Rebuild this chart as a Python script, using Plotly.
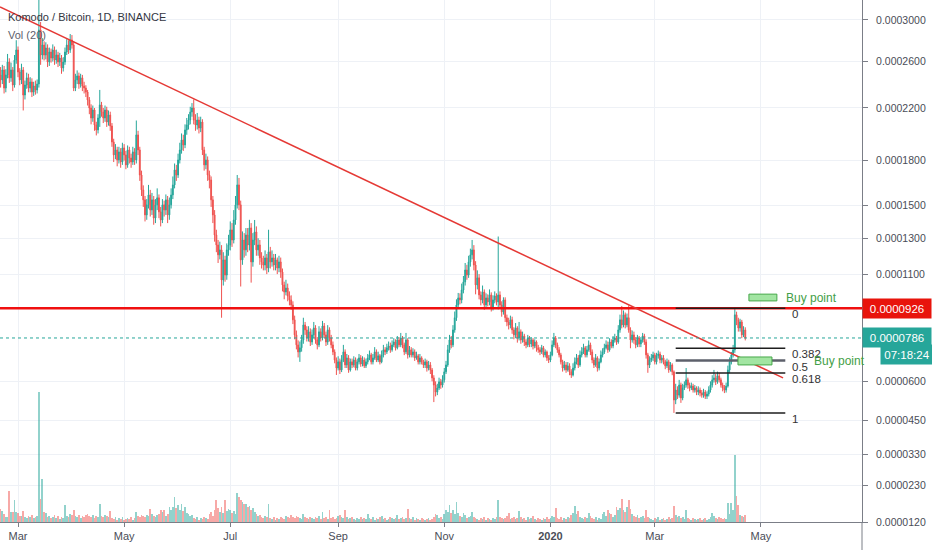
import numpy as np
import pandas as pd
import plotly.graph_objects as go

# KMD/BTC daily candles, prices in satoshi, volume in thousand KMD
start_day = "2019-02-19"
first_open = 24800

close_sat = [
    24360, 25240, 23660, 24800, 25960, 24540, 25240, 23920, 26140, 27070,
    25060, 24360, 25240, 23070, 23920, 24540, 23660, 24180, 23320, 23840,
    23490, 24010, 29000, 26600, 27540, 26600, 27260, 25960, 26880, 26320,
    27070, 26140, 26600, 25960, 26320, 25420, 25960, 26880, 27540, 27070,
    28020, 27540, 23660, 24360, 24710, 24010, 24540, 23840, 23660, 23320,
    22660, 22000, 21200, 21840, 20650, 20270, 21200, 22250, 21680, 21200,
    21840, 20880, 21440, 20570, 19360, 18410, 18770, 18050, 18630, 17910,
    18920, 18410, 17700, 18770, 18190, 17910, 18630, 18050, 19890, 18770,
    17000, 16000, 15350, 14400, 15030, 15670, 14710, 15350, 14210, 15030,
    15480, 14590, 14090, 15030, 14710, 15350, 14400, 15030, 15670, 16330,
    17350, 17000, 18050, 18770, 19510, 19140, 20270, 20650, 21040, 21680,
    22000, 21040, 20650, 21040, 20420, 20880, 18770, 17700, 18050, 17000,
    16660, 15350, 14400, 13190, 12610, 12050, 12330, 10690, 11770, 10950,
    12330, 12610, 13490, 12900, 14090, 15030, 16330, 15030, 11770, 12900,
    12330, 13190, 12610, 13610, 11660, 12900, 13370, 12330, 12610, 11880,
    11660, 11490, 11880, 11330, 12220, 11660, 11880, 11490, 11770, 11330,
    11660, 11110, 10430, 10070, 10270, 9870, 9670, 9420, 8700, 8000,
    7550, 7240, 7420, 7770, 8460, 8230, 7860, 8140, 7680, 8000,
    8320, 7770, 7550, 8140, 7860, 8410, 8000, 7680, 8230, 7860,
    7550, 7240, 6890, 6550, 6810, 6470, 6890, 7240, 6680, 6980,
    6470, 6810, 6680, 6890, 6550, 6810, 6980, 6720, 6890, 6640,
    6810, 6980, 7110, 6810, 6980, 7240, 6890, 7070, 6810, 7110,
    7330, 7240, 7420, 7500, 7330, 7550, 7680, 7420, 7770, 7550,
    7860, 7550, 7240, 7770, 7110, 7330, 7110, 7240, 6980, 7070,
    6810, 6980, 6810, 6680, 6810, 6550, 6680, 6470, 6140, 5850,
    5570, 5730, 5980, 5850, 6060, 6390, 6680, 7330, 7770, 7550,
    8230, 8800, 9420, 9770, 9670, 10170, 10590, 11220, 10950, 11660,
    12050, 12330, 11490, 10430, 10800, 9920, 9670, 10070, 9420, 9770,
    9570, 9920, 9280, 9670, 9870, 9570, 9920, 9420, 9080, 9670,
    8800, 8600, 8460, 8700, 8230, 8000, 8320, 7860, 8140, 7770,
    7950, 7680, 7550, 7860, 7590, 7770, 7500, 7680, 7420, 7330,
    7240, 7420, 7110, 7240, 6980, 6890, 7110, 7550, 7860, 7550,
    7330, 7110, 6810, 6550, 6680, 6470, 6640, 6390, 6260, 6550,
    6810, 6980, 6680, 7110, 7240, 7420, 7110, 7330, 7550, 7240,
    6890, 6680, 6980, 6550, 6810, 7110, 7240, 7420, 7550, 7330,
    7680, 7500, 7770, 7860, 7680, 8230, 8700, 8460, 8940, 8460,
    8800, 8230, 7770, 8000, 7770, 7550, 7860, 7590, 7770, 7950,
    7680, 7110, 6680, 6890, 6980, 7110, 6810, 7070, 7150, 6890,
    6980, 6810, 6640, 6810, 6470, 6680, 6390, 5260, 5650, 5450,
    5850, 5340, 5730, 5850, 6060, 5850, 5730, 5810, 5650, 5730,
    5570, 5650, 5530, 5450, 5570, 5410, 5490, 5650, 5850, 6060,
    6140, 5980, 6220, 6060, 5850, 5730, 5650, 5810, 6470, 6810,
    7110, 7330, 8940, 8700, 8320, 8600, 8000, 8230, 7860,
]

high_sat = [
    25500, 25700, 25600, 25300, 26700, 26300, 25900, 25500, 26600, 28000,
    27400, 25400, 25800, 25500, 24300, 25000, 24900, 24600, 24500, 24200,
    24300, 24400, 33000, 29800, 28200, 27900, 27800, 27600, 27300, 27200,
    27600, 27400, 27100, 26900, 26800, 26600, 26400, 27300, 28100, 28000,
    28600, 28500, 27900, 24900, 25200, 25000, 24900, 24800, 24200, 23900,
    23500, 22900, 22300, 22200, 22000, 20900, 21500, 23500, 22500, 22000,
    22200, 22100, 21800, 21700, 20800, 19600, 19200, 19000, 19000, 18900,
    19300, 19200, 18700, 19100, 19000, 18500, 19000, 18900, 21000, 20200,
    19000, 17300, 16300, 15600, 15400, 16330, 16000, 15800, 15600, 15400,
    16100, 15700, 14900, 15400, 15300, 15700, 15600, 15500, 16100, 16900,
    17800, 17700, 18500, 19300, 20000, 19900, 20700, 21200, 21500, 22100,
    22400, 22700, 21500, 21600, 21300, 21300, 21100, 19000, 18500, 18300,
    17300, 16900, 15600, 14700, 13500, 12900, 12800, 12600, 12200, 12000,
    12700, 13200, 14000, 13900, 14700, 15600, 17000, 16800, 15300, 13400,
    13300, 13600, 13600, 14100, 13900, 13300, 14090, 13700, 13000, 12900,
    12200, 12000, 12300, 12100, 13500, 12500, 12300, 12100, 12100, 11900,
    12000, 11900, 11300, 10600, 10700, 10500, 10100, 9900, 9600, 8900,
    8200, 7750, 7700, 8000, 8800, 8600, 8400, 8400, 8300, 8250,
    8600, 8450, 7900, 8400, 8300, 8650, 8550, 8150, 8450, 8350,
    8000, 7700, 7350, 7000, 7050, 6950, 7100, 7550, 7350, 7150,
    7100, 6950, 6950, 7050, 7000, 6950, 7150, 7100, 7050, 7000,
    6950, 7150, 7300, 7200, 7150, 7450, 7350, 7250, 7150, 7300,
    7550, 7450, 7600, 7700, 7650, 7750, 7850, 7800, 7950, 7900,
    8090, 7950, 7650, 8090, 7850, 7500, 7450, 7400, 7350, 7250,
    7150, 7150, 7050, 6900, 6950, 6900, 6850, 6800, 6550, 6250,
    6000, 5900, 6150, 6100, 6250, 6550, 6850, 7550, 8000, 7950,
    8450, 9100, 9700, 10020, 10000, 10500, 10900, 11600, 11500, 12000,
    12400, 12900, 12600, 11700, 11200, 11000, 10100, 10400, 10200, 10000,
    9950, 10200, 10050, 9900, 10100, 10000, 13100, 10100, 9600, 9800,
    9800, 8950, 8800, 8900, 8850, 8350, 8550, 8400, 8600, 8250,
    8150, 8050, 7800, 8000, 7950, 7900, 7850, 7800, 7750, 7550,
    7450, 7550, 7500, 7350, 7300, 7100, 7250, 7750, 8090, 7950,
    7650, 7450, 7200, 6900, 6850, 6800, 6800, 6750, 6500, 6750,
    7000, 7150, 7100, 7300, 7450, 7600, 7500, 7500, 7750, 7650,
    7350, 7000, 7150, 7050, 6950, 7300, 7400, 7600, 7750, 7700,
    7850, 7800, 7950, 8050, 7950, 8450, 8950, 9370, 9150, 9050,
    9000, 9400, 8350, 8200, 8150, 7900, 8000, 7950, 7900, 8090,
    8050, 7800, 7200, 7050, 7150, 7250, 7200, 7200, 7300, 7250,
    7100, 7100, 6900, 6950, 6900, 6800, 6750, 6450, 5900, 5800,
    6060, 5950, 5900, 6000, 6550, 6150, 5950, 5950, 5900, 5850,
    5800, 5800, 5750, 5650, 5700, 5650, 5600, 5800, 6000, 6250,
    6470, 6300, 6400, 6350, 6150, 5950, 5850, 5950, 6650, 7000,
    7240, 7550, 9300, 9090, 8800, 8750, 8700, 8400, 8350,
]

low_sat = [
    23700, 24000, 23200, 23300, 24500, 24100, 24200, 23400, 23700, 25800,
    24600, 23900, 24000, 21800, 22700, 23600, 23300, 23300, 22900, 23000,
    23100, 23200, 23700, 25700, 26200, 26100, 26200, 25500, 25600, 25900,
    26000, 25700, 25800, 25500, 25600, 24900, 25100, 25700, 26600, 26700,
    26800, 27200, 23400, 23400, 24000, 23600, 23700, 23400, 23200, 22900,
    22200, 21500, 20700, 20900, 20200, 19850, 20000, 20500, 21300, 20800,
    20900, 20500, 20600, 20200, 19000, 17900, 18100, 17600, 17800, 17500,
    17700, 18000, 17400, 17500, 17800, 17500, 17700, 17700, 17800, 18400,
    16600, 15600, 14900, 14000, 14100, 14800, 14300, 14400, 13800, 13900,
    14700, 14200, 13700, 13900, 14300, 14400, 13900, 14100, 14800, 15400,
    16100, 16600, 16800, 17800, 18500, 18700, 18900, 19900, 20300, 20700,
    21300, 20700, 20200, 20300, 20000, 20100, 18400, 17300, 17400, 16600,
    16100, 14900, 13900, 12800, 12200, 11600, 11800, 8800, 10400, 10600,
    10700, 12000, 12300, 12500, 12700, 13800, 14800, 14700, 10350, 11500,
    11900, 12000, 12200, 12300, 10550, 11400, 12600, 12000, 12000, 11500,
    11300, 11200, 11200, 11000, 11100, 11300, 11400, 11200, 11200, 11000,
    11100, 10800, 10100, 9700, 9900, 9600, 9400, 9180, 8500, 7800,
    7350, 7000, 6810, 7250, 7600, 8000, 7700, 7700, 7500, 7550,
    7850, 7600, 7350, 7450, 7700, 7750, 7850, 7500, 7550, 7700,
    7400, 7100, 6750, 6260, 6450, 6300, 6380, 6800, 6550, 6550,
    6350, 6400, 6550, 6580, 6450, 6450, 6700, 6600, 6620, 6550,
    6550, 6700, 6880, 6700, 6700, 6900, 6800, 6800, 6700, 6750,
    7000, 7100, 7150, 7300, 7200, 7250, 7450, 7300, 7350, 7450,
    7450, 7400, 7100, 7150, 6950, 7000, 7000, 7000, 6850, 6900,
    6700, 6700, 6700, 6550, 6550, 6400, 6450, 6300, 6000, 5180,
    5400, 5450, 5650, 5700, 5750, 5950, 6300, 6600, 7200, 7400,
    7450, 8100, 8650, 9250, 9450, 9500, 10000, 10400, 10700, 10800,
    11400, 11800, 11200, 9950, 10200, 9700, 9400, 9500, 9180, 9300,
    9350, 9400, 9100, 9150, 9500, 9400, 9200, 9250, 8850, 8950,
    8600, 8400, 8250, 8300, 8050, 7800, 7850, 7650, 7750, 7600,
    7650, 7500, 7400, 7450, 7450, 7450, 7350, 7400, 7250, 7200,
    7100, 7150, 7000, 7000, 6850, 6760, 6800, 7050, 7450, 7400,
    7200, 7000, 6700, 6400, 6450, 6350, 6400, 6250, 6140, 6200,
    6450, 6700, 6550, 6600, 7000, 7150, 7000, 7000, 7250, 7100,
    6750, 6550, 6600, 6400, 6450, 6750, 7000, 7150, 7350, 7200,
    7250, 7400, 7400, 7650, 7550, 7600, 8100, 8300, 8350, 8300,
    8350, 8100, 7400, 7650, 7600, 7400, 7450, 7450, 7450, 7650,
    7550, 6950, 6350, 6550, 6800, 6850, 6700, 6700, 6950, 6750,
    6750, 6700, 6500, 6550, 6350, 6400, 6250, 4770, 5100, 5300,
    5350, 5150, 5250, 5650, 5750, 5700, 5600, 5650, 5550, 5550,
    5450, 5450, 5400, 5350, 5350, 5300, 5300, 5400, 5550, 5750,
    5950, 5850, 5900, 5950, 5750, 5600, 5530, 5550, 5750, 6350,
    6700, 7000, 7200, 8450, 8150, 8150, 7850, 7900, 7750,
]

vol_k = [
    13, 11, 8, 5, 5, 31, 10, 10, 22, 10,
    9, 6, 6, 11, 5, 4, 6, 5, 7, 4,
    5, 6, 130, 23, 43, 10, 9, 5, 6, 4,
    5, 7, 4, 6, 3, 5, 4, 17, 6, 5,
    8, 7, 12, 6, 5, 7, 4, 6, 5, 7,
    8, 6, 5, 7, 4, 6, 5, 18, 6, 5,
    7, 6, 5, 11, 4, 3, 5, 2, 4, 3,
    5, 2, 3, 4, 3, 5, 2, 4, 10, 6,
    5, 7, 6, 5, 7, 6, 13, 8, 6, 5,
    7, 8, 12, 10, 12, 6, 8, 15, 12, 15,
    25, 14, 17, 12, 18, 11, 15, 9, 8, 6,
    7, 4, 3, 5, 2, 4, 3, 5, 4, 3,
    8, 10, 6, 12, 22, 14, 10, 15, 9, 22,
    11, 13, 12, 9, 11, 8, 29, 25, 22, 20,
    18, 18, 15, 16, 12, 14, 10, 8, 6, 7,
    5, 4, 6, 5, 18, 4, 3, 5, 2, 4,
    3, 5, 4, 3, 6, 5, 4, 7, 5, 4,
    6, 5, 4, 3, 8, 5, 4, 3, 5, 4,
    3, 5, 4, 6, 3, 10, 4, 5, 3, 12,
    4, 5, 3, 4, 6, 7, 5, 4, 12, 5,
    3, 4, 5, 3, 2, 4, 3, 5, 3, 4,
    3, 8, 4, 3, 5, 2, 4, 3, 5, 6,
    3, 4, 2, 3, 5, 4, 3, 4, 7, 3,
    4, 5, 3, 4, 13, 4, 3, 5, 2, 4,
    3, 2, 4, 3, 2, 3, 4, 2, 3, 5,
    8, 7, 4, 5, 3, 8, 12, 10, 17, 9,
    12, 8, 20, 9, 6, 5, 9, 7, 4, 5,
    6, 10, 5, 4, 3, 2, 4, 3, 5, 2,
    4, 3, 2, 4, 3, 5, 22, 5, 4, 3,
    4, 6, 9, 3, 4, 5, 3, 4, 11, 5,
    3, 4, 2, 5, 3, 4, 6, 3, 2, 4,
    3, 2, 4, 3, 5, 3, 4, 6, 5, 14,
    4, 3, 5, 2, 4, 3, 5, 4, 7, 9,
    16, 8, 11, 5, 4, 3, 5, 4, 9, 6,
    4, 3, 5, 2, 4, 3, 8, 10, 6, 12,
    9, 8, 5, 7, 15, 12, 14, 23, 12, 10,
    15, 22, 13, 8, 6, 5, 7, 4, 5, 6,
    4, 12, 5, 4, 3, 2, 4, 3, 5, 2,
    3, 4, 2, 3, 5, 3, 4, 16, 7, 5,
    6, 4, 5, 3, 12, 4, 3, 2, 4, 3,
    2, 3, 4, 2, 3, 4, 2, 3, 5, 9,
    6, 4, 3, 5, 4, 3, 4, 3, 19, 8,
    19, 12, 67, 26, 17, 7, 6, 5, 7,
]

y_ticks = [0.0003, 0.00026, 0.00022, 0.00018, 0.00015, 0.00013, 0.00011,
           0.00006, 0.000045, 0.000033, 0.000023, 0.000012]
x_ticks = ["2019-03-01", "2019-05-01", "2019-07-01", "2019-09-01",
           "2019-11-01", "2020-01-01", "2020-03-01", "2020-05-01"]
x_labels = ["Mar", "May", "Jul", "Sep", "Nov", "<b>2020</b>", "Mar", "May"]

resistance = 0.0000926
last_price = 0.0000786
fib_top, fib_bottom = 0.0000926, 0.0000477
fib_ratios = [0, 0.382, 0.5, 0.618, 1]
fib_span = ("2020-03-13", "2020-05-15")
trend_pts = [("2019-02-18 16:00", 0.0003134), ("2020-05-13 17:00", 0.0000614)]
buy_zones = [
    ("2020-04-24 02:00", "2020-05-10 04:00", 0.0000962, 0.0000996),
    ("2020-04-17 19:00", "2020-05-07 08:00", 0.0000668, 0.0000702),
]
buy_labels = [("2020-05-14 12:00", 0.0000978), ("2020-05-30 12:00", 0.0000684)]

UP = "#26a69a"
DOWN = "#ef5350"
AXIS = "#7b7e87"
GRID = "#eef1f6"
TEXT = "#4a4d57"
FONT = "Liberation Sans, Arial, sans-serif"

# price scale of the screenshot is log-like, compressed near zero
SHIFT = 0.0001


def scale(p):
    return np.log(np.asarray(p, dtype=float) + SHIFT)


dates = pd.date_range(start_day, periods=len(close_sat), freq="D")
open_sat = [first_open] + close_sat[:-1]
o = np.array(open_sat) / 1e8
h = np.array(high_sat) / 1e8
l = np.array(low_sat) / 1e8
c = np.array(close_sat) / 1e8
vol_colors = ["rgba(38,166,154,0.5)" if cc >= oo else "rgba(239,83,80,0.5)"
              for oo, cc in zip(o, c)]

fig = go.Figure()
fig.add_trace(go.Bar(x=dates, y=vol_k, marker_color=vol_colors,
                     marker_line_width=0, yaxis="y2", hoverinfo="skip"))
fig.add_trace(go.Candlestick(
    x=dates, open=scale(o), high=scale(h), low=scale(l), close=scale(c),
    increasing=dict(line=dict(color=UP, width=1), fillcolor=UP),
    decreasing=dict(line=dict(color=DOWN, width=1), fillcolor=DOWN),
    whiskerwidth=0, hoverinfo="skip",
))

# fib levels are spaced evenly on the chart's own (log-like) scale
u_top, u_bottom = float(scale(fib_top)), float(scale(fib_bottom))
fib_u = [u_top + r * (u_bottom - u_top) for r in fib_ratios]

shapes = []
# resistance line
shapes.append(dict(type="line", xref="paper", x0=0, x1=1, yref="y",
                   y0=float(scale(resistance)), y1=float(scale(resistance)),
                   line=dict(color="#f01010", width=2.5), layer="above"))
# descending trend line
shapes.append(dict(type="line", xref="x", yref="y",
                   x0=trend_pts[0][0], y0=float(scale(trend_pts[0][1])),
                   x1=trend_pts[1][0], y1=float(scale(trend_pts[1][1])),
                   line=dict(color="#e53935", width=1.5), layer="above"))
# last price
shapes.append(dict(type="line", xref="paper", x0=0, x1=1, yref="y",
                   y0=float(scale(last_price)), y1=float(scale(last_price)),
                   line=dict(color=UP, width=1, dash="dot"), layer="above"))
# fib retracement
for r, u in zip(fib_ratios, fib_u):
    mid = r == 0.5
    shapes.append(dict(type="line", xref="x", yref="y",
                       x0=fib_span[0], x1=fib_span[1], y0=u, y1=u,
                       line=dict(color="#5d606b" if mid else "#1e1e1e",
                                 width=2.5 if mid else 1.5),
                       layer="above"))
for x0, x1, p0, p1 in buy_zones:
    shapes.append(dict(type="rect", xref="x", yref="y", x0=x0, x1=x1,
                       y0=float(scale(p0)), y1=float(scale(p1)),
                       fillcolor="#a2e5a2", line=dict(color="#46a84a", width=1),
                       layer="above"))
# price scale border continues down through the time scale
shapes.append(dict(type="line", xref="paper", yref="paper", x0=1, x1=1,
                   y0=0, y1=-0.06, line=dict(color=AXIS, width=1)))

annotations = [
    dict(text="Komodo / Bitcoin, 1D, BINANCE", xref="paper", yref="paper",
         x=0.007, y=0.968, xanchor="left", yanchor="middle", showarrow=False,
         font=dict(size=11, color="#33363f", family=FONT)),
    dict(text="Vol (20)", xref="paper", yref="paper", x=0.007, y=0.933,
         xanchor="left", yanchor="middle", showarrow=False,
         font=dict(size=11, color="#5d606b", family=FONT)),
]
for r, u in zip(fib_ratios, fib_u):
    annotations.append(dict(text=f"{r:g}", x="2020-05-17 18:00", y=u,
                            yshift=-6, xanchor="left", yanchor="middle",
                            showarrow=False,
                            font=dict(size=11.5, color="#333333", family=FONT)))
for bx, bp in buy_labels:
    annotations.append(dict(text="Buy point", x=bx, y=float(scale(bp)),
                            xanchor="left", yanchor="middle", showarrow=False,
                            font=dict(size=12, color="#43a047", family=FONT)))
# price scale badges
for txt, p, bg, shift_x, shift_y, w in [
    ("0.0000926", resistance, "#e8140c", 0, 0, 62),
    ("0.0000786", last_price, UP, 0, 0, 62),
    ("07:18:24", last_price, UP, 18, -17, 46),
]:
    annotations.append(dict(text=txt, xref="paper", x=1, y=float(scale(p)),
                            xanchor="left", yanchor="middle", xshift=shift_x,
                            yshift=shift_y, showarrow=False, bgcolor=bg,
                            width=w, height=13, borderpad=3, align="center",
                            font=dict(size=11.5, color="white", family=FONT)))

fig.update_layout(
    width=932, height=550,
    margin=dict(l=0, r=70, t=0, b=28),
    paper_bgcolor="white", plot_bgcolor="white",
    showlegend=False, bargap=0,
    shapes=shapes, annotations=annotations,
    font=dict(family=FONT, color=TEXT),
    xaxis=dict(
        type="date", range=["2019-02-18 15:40", "2020-06-28 02:00"],
        tickvals=x_ticks, ticktext=x_labels, showgrid=True, gridcolor=GRID,
        ticks="outside", ticklen=4, tickcolor=AXIS, showline=True,
        linecolor=AXIS, linewidth=1, zeroline=False,
        rangeslider=dict(visible=False), tickfont=dict(size=11, color=TEXT),
    ),
    yaxis=dict(
        side="right", range=[float(scale(0.000012)), float(scale(0.0003208))],
        tickvals=scale(y_ticks), ticktext=[f"{t:.7f}" for t in y_ticks],
        showgrid=True, gridcolor=GRID, ticks="outside", ticklen=5,
        tickcolor=AXIS, showline=True, linecolor=AXIS, linewidth=1,
        zeroline=False, tickfont=dict(size=10.5, color=TEXT),
        ticklabelstandoff=6,
    ),
    yaxis2=dict(overlaying="y", range=[0, 522], visible=False),
)

# drop the default page margin so the chart sits at the window's top-left
fig.write_html("out.html", config={"displayModeBar": False},
               post_script="document.body.style.margin='0px';")
